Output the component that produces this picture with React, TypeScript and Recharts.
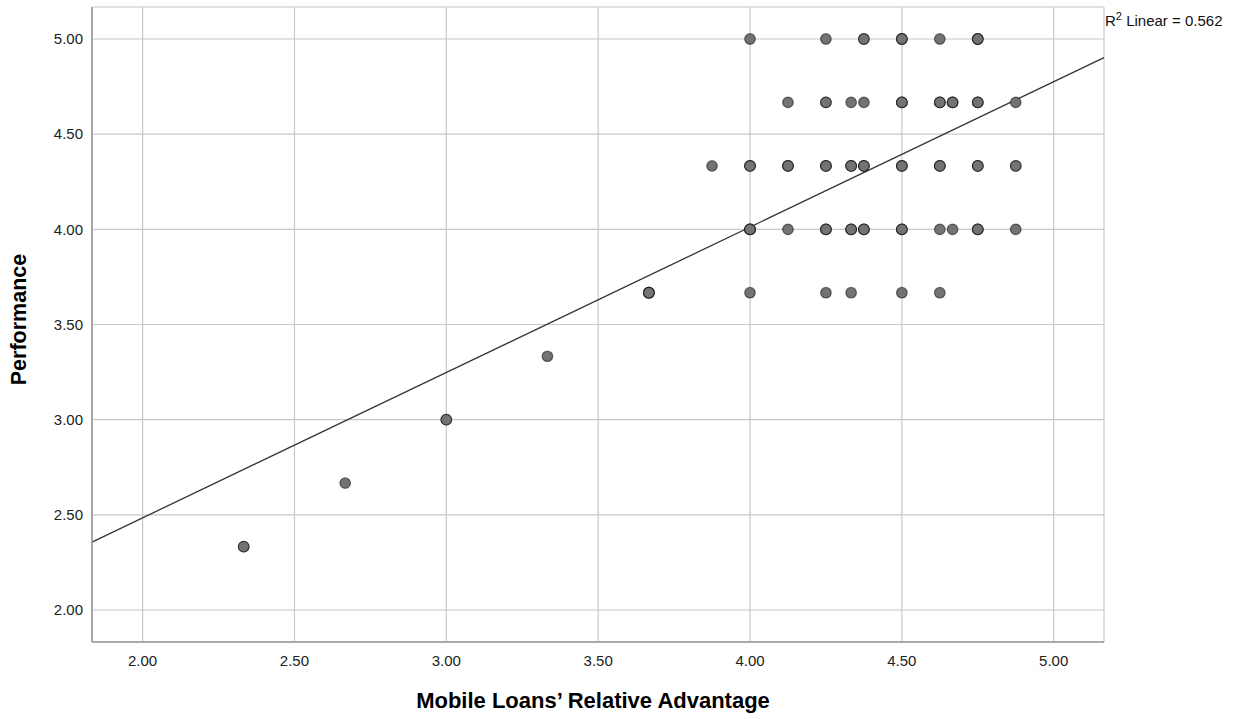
import React from 'react';
import { ScatterChart, Scatter, XAxis, YAxis, CartesianGrid, ReferenceLine } from 'recharts';

// observed (advantage, performance) pairs; n = how many cases share the spot
const points = [
  { x: 4.0, y: 5.0, n: 1 }, { x: 4.25, y: 5.0, n: 1 }, { x: 4.375, y: 5.0, n: 2 },
  { x: 4.5, y: 5.0, n: 3 }, { x: 4.625, y: 5.0, n: 1 }, { x: 4.75, y: 5.0, n: 3 },

  { x: 4.125, y: 4.667, n: 1 }, { x: 4.25, y: 4.667, n: 2 }, { x: 4.333, y: 4.667, n: 1 },
  { x: 4.375, y: 4.667, n: 1 }, { x: 4.5, y: 4.667, n: 3 }, { x: 4.625, y: 4.667, n: 3 },
  { x: 4.667, y: 4.667, n: 3 }, { x: 4.75, y: 4.667, n: 3 }, { x: 4.875, y: 4.667, n: 1 },

  { x: 3.875, y: 4.333, n: 1 }, { x: 4.0, y: 4.333, n: 3 }, { x: 4.125, y: 4.333, n: 3 },
  { x: 4.25, y: 4.333, n: 3 }, { x: 4.333, y: 4.333, n: 3 }, { x: 4.375, y: 4.333, n: 3 },
  { x: 4.5, y: 4.333, n: 3 }, { x: 4.625, y: 4.333, n: 3 }, { x: 4.75, y: 4.333, n: 3 },
  { x: 4.875, y: 4.333, n: 2 },

  { x: 4.0, y: 4.0, n: 4 }, { x: 4.125, y: 4.0, n: 1 }, { x: 4.25, y: 4.0, n: 3 },
  { x: 4.333, y: 4.0, n: 3 }, { x: 4.375, y: 4.0, n: 3 }, { x: 4.5, y: 4.0, n: 3 },
  { x: 4.625, y: 4.0, n: 1 }, { x: 4.667, y: 4.0, n: 1 }, { x: 4.75, y: 4.0, n: 3 },
  { x: 4.875, y: 4.0, n: 1 },

  { x: 3.667, y: 3.667, n: 4 }, { x: 4.0, y: 3.667, n: 1 }, { x: 4.25, y: 3.667, n: 1 },
  { x: 4.333, y: 3.667, n: 1 }, { x: 4.5, y: 3.667, n: 1 }, { x: 4.625, y: 3.667, n: 1 },

  { x: 3.333, y: 3.333, n: 1 },
  { x: 3.0, y: 3.0, n: 2 },
  { x: 2.667, y: 2.667, n: 1 },
  { x: 2.333, y: 2.333, n: 2 },
];

// linear fit line as drawn, at the two plot edges
const fitLine = [
  { x: 1.8334, y: 2.357 },
  { x: 5.1656, y: 4.902 },
];

const xDomain = [1.8334, 5.1656];
const yDomain = [1.832, 5.168];
const xTicks = [2.0, 2.5, 3.0, 3.5, 4.0, 4.5, 5.0];
const yTicks = [2.0, 2.5, 3.0, 3.5, 4.0, 4.5, 5.0];

const rSquared = '0.562';
const xTitle = 'Mobile Loans\u2019 Relative Advantage';
const yTitle = 'Performance';

const FONT = '"Liberation Sans", Arial, sans-serif';

// repeat stacked cases so their outlines darken like the original
const scatterData = points.flatMap((p) => Array.from({ length: p.n }, () => ({ x: p.x, y: p.y })));

const Dot = (props: any) => {
  const { cx, cy } = props;
  if (cx == null || cy == null) return null;
  return (
    <circle
      cx={cx}
      cy={cy}
      r={5.3}
      fill="#737373"
      stroke="#000"
      strokeOpacity={0.5}
      strokeWidth={1.2}
    />
  );
};

const XTitle = (props: any) => {
  const { viewBox } = props;
  const cx = viewBox.x + viewBox.width / 2 - 5;
  return (
    <text x={cx} y={708} textAnchor="middle" fontFamily={FONT} fontWeight="bold" fontSize={22} fill="#000">
      {xTitle}
    </text>
  );
};

const YTitle = (props: any) => {
  const { viewBox } = props;
  const cy = viewBox.y + viewBox.height / 2 - 5;
  return (
    <text
      x={25.5}
      y={cy}
      transform={`rotate(-90 25.5 ${cy})`}
      textAnchor="middle"
      fontFamily={FONT}
      fontWeight="bold"
      fontSize={21.5}
      fill="#000"
    >
      {yTitle}
    </text>
  );
};

const tickStyle = { fill: '#222', fontSize: 15, fontFamily: FONT };

const App: React.FC = () => {
  return (
    <div style={{ position: 'absolute', left: 0, top: 0, width: 1242, height: 719, background: '#fff' }}>
      <ScatterChart width={1242} height={719} margin={{ top: 7, right: 138, bottom: 0, left: 0 }}>
        <CartesianGrid stroke="#c8c8c8" strokeWidth={1.2} />
        <XAxis
          type="number"
          dataKey="x"
          domain={xDomain}
          ticks={xTicks}
          allowDataOverflow
          height={77}
          tickFormatter={(v: number) => v.toFixed(2)}
          tick={tickStyle}
          tickLine={false}
          tickSize={0}
          tickMargin={13}
          axisLine={{ stroke: '#999', strokeWidth: 1.6 }}
          label={{ content: XTitle }}
        />
        <YAxis
          type="number"
          dataKey="y"
          domain={yDomain}
          ticks={yTicks}
          allowDataOverflow
          width={92}
          tickFormatter={(v: number) => v.toFixed(2)}
          tick={tickStyle}
          tickLine={false}
          tickSize={0}
          tickMargin={9}
          axisLine={{ stroke: '#999', strokeWidth: 1.6 }}
          label={{ content: YTitle }}
        />
        <Scatter data={scatterData} shape={Dot} isAnimationActive={false} />
        <ReferenceLine
          segment={fitLine}
          stroke="#333"
          strokeWidth={1.3}
          ifOverflow="visible"
        />
      </ScatterChart>
      <div
        style={{
          position: 'absolute',
          left: 1105,
          top: 13,
          fontFamily: FONT,
          fontSize: 15,
          lineHeight: '15px',
          color: '#111',
          whiteSpace: 'nowrap',
        }}
      >
        R<sup style={{ fontSize: 11, lineHeight: 0, verticalAlign: 'super' }}>2</sup> Linear = {rSquared}
      </div>
    </div>
  );
};

export default App;
